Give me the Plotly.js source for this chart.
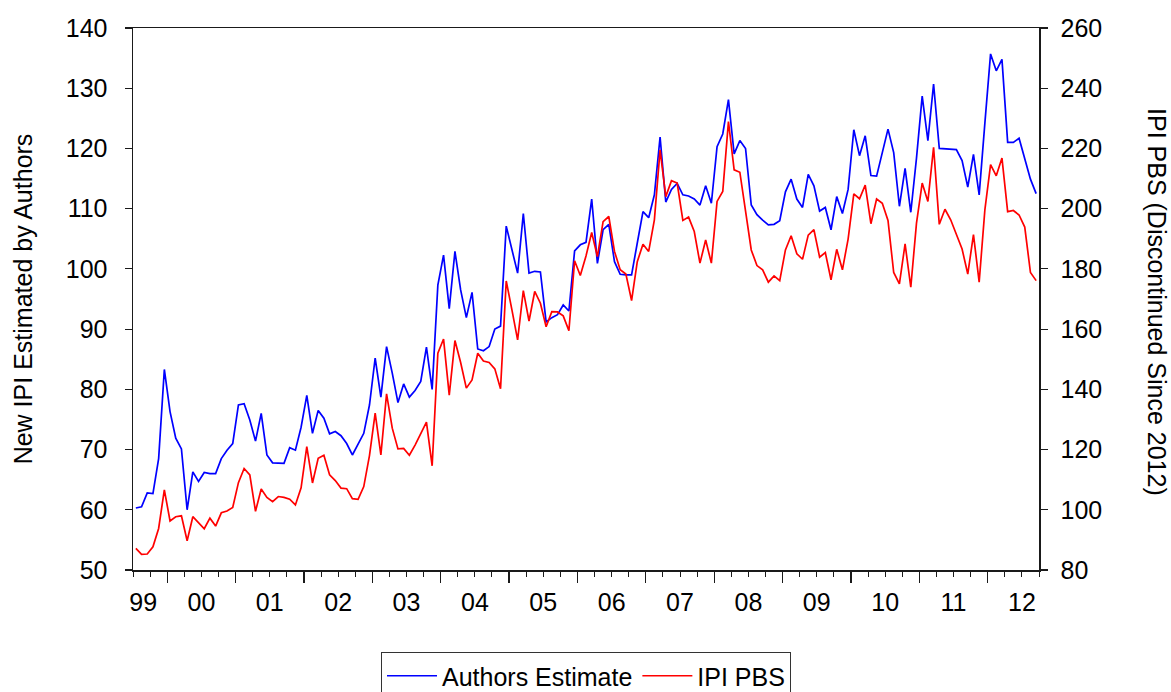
<!DOCTYPE html>
<html>
<head>
<meta charset="utf-8">
<script src="https://cdn.plot.ly/plotly-3.0.1.min.js"></script>
<style>
html,body{margin:0;padding:0;background:#fff;}
#chart{width:1171px;height:692px;}
</style>
</head>
<body>
<div id="chart"></div>
<script>
// Monthly observations, July 1999 to September 2012
const startYear = 1999;
const startMonth = 7;
const authorsEstimate = [
60.3,60.5,62.8,62.7,68.5,83.3,
76.3,71.9,70.1,60.0,66.3,64.7,66.2,66.0,66.0,68.5,69.9,71.0,
77.4,77.6,74.9,71.4,76.0,69.1,67.8,67.8,67.7,70.3,69.9,73.7,
79.0,72.7,76.5,75.2,72.6,73.0,72.3,71.0,69.1,70.9,72.7,77.4,
85.2,78.7,87.1,82.7,77.8,80.9,78.7,79.8,81.3,87.0,80.0,97.3,
102.3,93.4,102.9,96.5,91.9,96.1,86.7,86.4,87.1,90.0,90.5,107.1,
103.4,99.3,109.2,99.3,99.6,99.5,91.2,91.9,92.4,94.0,93.0,103.0,
104.0,104.4,111.6,100.9,106.5,107.4,101.2,99.1,99.0,99.0,104.3,109.5,
108.5,112.3,121.9,111.1,113.2,114.2,112.3,112.1,111.6,110.6,113.8,110.9,
120.3,122.4,128.1,119.1,121.3,120.0,110.6,109.0,108.1,107.3,107.4,108.0,
112.8,114.9,111.6,110.2,115.7,113.8,109.6,110.2,106.5,112.0,109.2,113.2,
123.1,118.8,122.1,115.5,115.4,119.3,123.2,119.3,110.4,116.7,109.4,118.4,
128.7,121.3,130.7,120.0,119.9,119.8,119.8,118.0,113.6,119.0,112.3,124.2,
135.7,132.9,134.8,121.0,121.0,121.7,118.4,114.9,112.5
];
const ipiPBS = [
87.2,85.2,85.3,87.7,93.8,106.6,
96.3,97.7,98.0,89.7,97.7,95.7,93.7,97.2,94.6,99.0,99.6,100.8,
109.0,113.7,111.6,99.5,106.9,104.1,102.7,104.4,104.1,103.5,101.6,107.3,
121.0,108.9,117.1,118.1,111.6,109.7,107.2,107.0,103.7,103.5,107.7,118.0,
132.1,118.2,138.5,127.1,120.2,120.4,118.1,121.5,125.4,129.1,114.6,152.0,
156.7,138.1,156.2,148.9,140.4,143.1,152.0,149.4,148.9,146.8,140.2,176.0,
166.4,156.4,172.8,162.7,172.5,168.6,160.8,165.8,165.7,164.4,159.5,182.7,
177.8,184.3,192.1,184.1,195.7,197.4,185.8,179.7,178.3,169.5,182.4,188.2,
185.8,196.3,219.5,204.0,209.3,208.5,196.1,197.2,192.4,181.9,189.6,181.9,
202.4,205.7,228.9,212.9,212.1,199.6,186.3,181.1,179.7,175.6,177.7,176.1,
186.3,191.0,185.0,183.2,191.2,193.0,183.9,185.4,176.4,186.5,179.7,189.9,
204.9,203.3,207.8,195.0,203.2,201.8,196.1,178.8,175.0,188.3,173.9,195.2,
208.5,202.4,220.4,194.8,199.8,196.3,191.3,186.6,178.3,191.4,175.6,199.6,
214.6,210.9,216.8,199.0,199.4,197.9,193.9,178.8,176.1
];
const years = [1999,2000,2001,2002,2003,2004,2005,2006,2007,2008,2009,2010,2011,2012];
const yearLabels = ['99','00','01','02','03','04','05','06','07','08','09','10','11','12'];
const seriesNames = ['Authors Estimate','IPI PBS'];
const leftTitle = 'New IPI Estimated by Authors';
const rightTitle = 'IPI PBS (Discontinued Since 2012)';

// time in decimal years, each month plotted at its middle
const xStart = startYear + (startMonth - 1) / 12;
const t = authorsEstimate.map((_, i) => xStart + (i + 0.5) / 12);
const xEnd = xStart + authorsEstimate.length / 12;

const yearTicks = years.filter(y => y > xStart && y < xEnd);
const pad = 0.15;
const labelPos = years.map(y => Math.min(Math.max(y + 0.5, xStart + pad), xEnd - pad));

const FONT = 'Liberation Sans, Arial, sans-serif';
const FS = 25;
const AX = '#1a1a1a';

const traces = [
  {x: t, y: authorsEstimate, name: seriesNames[0], type: 'scatter', mode: 'lines',
   line: {color: '#0000ff', width: 1.7}, xaxis: 'x', yaxis: 'y'},
  {x: t, y: ipiPBS, name: seriesNames[1], type: 'scatter', mode: 'lines',
   line: {color: '#ff0000', width: 1.7}, xaxis: 'x', yaxis: 'y2'}
];

const layout = {
  width: 1171, height: 692,
  margin: {l: 133, r: 132, t: 28, b: 122},
  paper_bgcolor: '#fff', plot_bgcolor: '#fff',
  font: {family: FONT, size: FS, color: '#000'},
  showlegend: true,
  legend: {orientation: 'h', xref: 'paper', yref: 'container', x: 0.5, xanchor: 'center',
           y: 1 - 652 / 692, yanchor: 'top',
           bordercolor: '#333', borderwidth: 1, font: {size: FS, family: FONT},
           itemwidth: 50, tracegroupgap: 0},
  xaxis: {range: [xStart, xEnd], tickmode: 'array', tickvals: labelPos, ticktext: yearLabels,
          ticks: '', showgrid: false, zeroline: false, showline: true, linecolor: AX,
          linewidth: 1.5, mirror: true, automargin: false, ticklabelstandoff: 9,
          tickfont: {size: FS}},
  xaxis2: {overlaying: 'x', anchor: 'y', side: 'bottom', range: [xStart, xEnd],
           tickmode: 'array', tickvals: yearTicks, ticktext: yearTicks.map(() => ''),
           ticks: 'outside', ticklen: 12, tickwidth: 1.2, tickcolor: AX,
           minor: {tick0: xStart, dtick: 0.25, ticks: 'outside', ticklen: 6, tickwidth: 1, tickcolor: AX, showgrid: false},
           showgrid: false, zeroline: false, showline: false, automargin: false},
  yaxis: {range: [50, 140], dtick: 10, tick0: 50, ticks: 'outside', ticklen: 7, tickwidth: 1.2,
          tickcolor: AX, showgrid: false, zeroline: false, showline: true, linecolor: AX,
          linewidth: 1.5, automargin: false, ticklabelstandoff: 12,
          title: {text: leftTitle, standoff: 26, font: {size: FS}}},
  yaxis2: {overlaying: 'y', side: 'right', anchor: 'x', range: [80, 260], dtick: 20, tick0: 80,
           ticks: 'outside', ticklen: 7, tickwidth: 1.2, tickcolor: AX, showgrid: false,
           zeroline: false, showline: true, linecolor: AX, linewidth: 1.5, automargin: false,
           ticklabelstandoff: 8},
  annotations: [
    {text: rightTitle, xref: 'paper', yref: 'paper', x: 1.131, y: 0.495, xanchor: 'center',
     yanchor: 'middle', textangle: 90, showarrow: false, font: {size: FS, family: FONT}}
  ]
};

// empty trace so the overlay tick axis is drawn
traces.push({x: [xStart], y: [null], xaxis: 'x2', yaxis: 'y', type: 'scatter', mode: 'lines',
             showlegend: false, hoverinfo: 'skip'});

Plotly.newPlot('chart', traces, layout, {displayModeBar: false, staticPlot: true});
</script>
</body>
</html>
